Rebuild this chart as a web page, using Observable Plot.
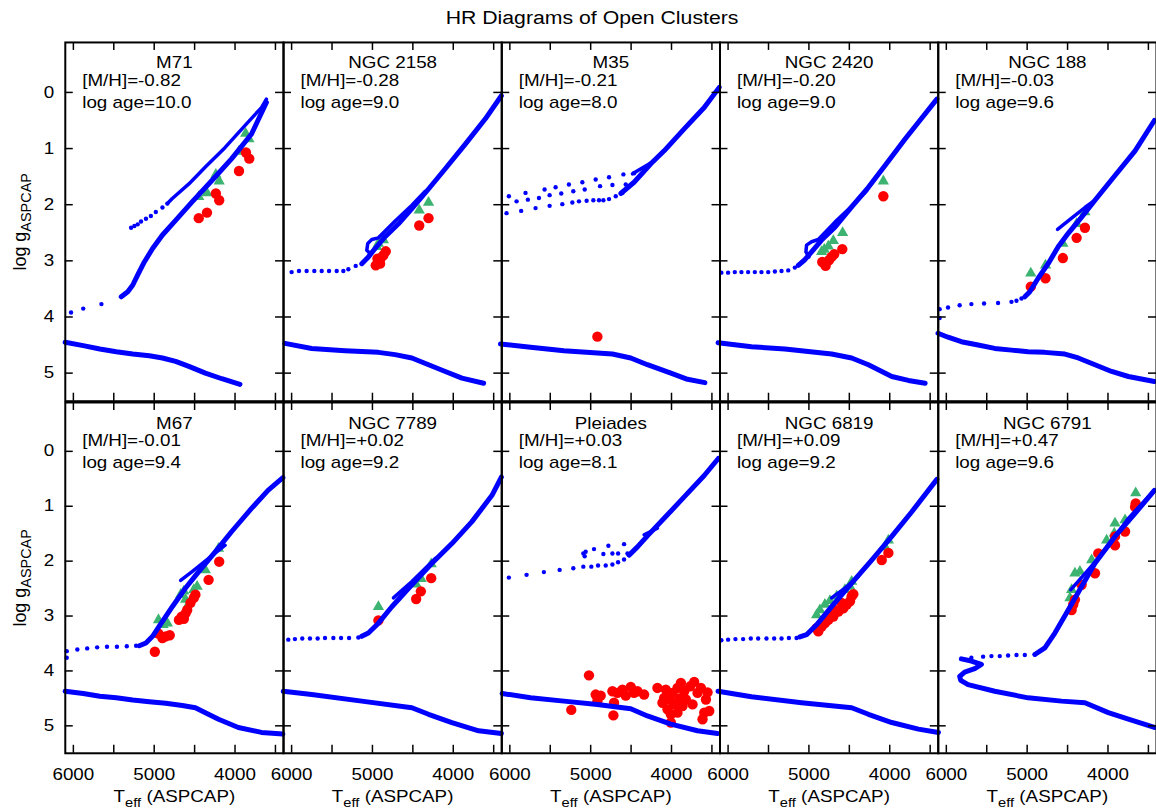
<!DOCTYPE html>
<html><head><meta charset="utf-8">
<script src="https://cdn.jsdelivr.net/npm/d3@7"></script>
<script src="https://cdn.jsdelivr.net/npm/@observablehq/plot@0.6"></script>
<style>
html,body{margin:0;padding:0;background:#fff;overflow:hidden;width:1156px;height:812px}
#title{position:absolute;left:0;top:7px;width:1184px;text-align:center;font:18px "Liberation Sans",Arial,sans-serif;line-height:22px;color:#000}
#title span{display:inline-block;transform:scaleX(1.18)}
#top{position:absolute;left:0;top:30px}
#bottom{position:absolute;left:0;top:402px}
svg{overflow:visible}
</style></head><body>
<div id="title"><span>HR Diagrams of Open Clusters</span></div>
<div id="top"></div><div id="bottom"></div>
<script>
const clusters = ["M71","NGC 2158","M35","NGC 2420","NGC 188","M67","NGC 7789","Pleiades","NGC 6819","NGC 6791"];
const metallicity = ["-0.82","-0.28","-0.21","-0.20","-0.03","-0.01","+0.02","+0.03","+0.09","+0.47"];
const logAge = ["10.0","9.0","8.0","9.0","9.6","9.4","9.2","8.1","9.2","9.6"];
const xTicks = [6000,5500,5000,4500,4000,3500];
const xTickLabels = [6000,5000,4000];
const yTicks = [0,1,2,3,4,5];

// isochrone main-sequence branch [Teff, log g]
const msLine = [
 [[6102,4.45],[5878,4.51],[5673,4.57],[5469,4.62],[5265,4.66],[5061,4.69],[4898,4.73],[4735,4.79],[4571,4.88],[4367,5.00],[4163,5.10],[3939,5.20]],
 [[6083,4.47],[5752,4.56],[5339,4.60],[4926,4.63],[4719,4.67],[4512,4.73],[4306,4.85],[4099,4.97],[3893,5.09],[3624,5.18]],
 [[6116,4.48],[5744,4.54],[5331,4.60],[4731,4.66],[4504,4.73],[4298,4.85],[4008,5.00],[3802,5.11],[3587,5.17]],
 [[6124,4.46],[5711,4.53],[5298,4.57],[4719,4.66],[4471,4.73],[4264,4.85],[3975,5.06],[3769,5.13],[3562,5.18]],
 [[6103,4.29],[5979,4.36],[5814,4.44],[5607,4.50],[5401,4.56],[5194,4.59],[4988,4.62],[4781,4.63],[4533,4.66],[4368,4.73],[4161,4.85],[3955,4.97],[3748,5.06],[3426,5.15]],
 [[6102,4.37],[5878,4.41],[5673,4.46],[5469,4.49],[5265,4.53],[5061,4.56],[4857,4.59],[4653,4.63],[4490,4.67],[4367,4.76],[4204,4.88],[3959,5.03],[3673,5.12],[3408,5.15]],
 [[6103,4.37],[5752,4.43],[5132,4.55],[4512,4.67],[4306,4.79],[4017,4.94],[3686,5.09],[3405,5.14]],
 [[6095,4.41],[5744,4.49],[5331,4.55],[4917,4.61],[4504,4.69],[4298,4.82],[4008,4.97],[3678,5.09],[3430,5.14]],
 [[6124,4.37],[5711,4.47],[5091,4.58],[4471,4.67],[4264,4.79],[3975,4.94],[3645,5.06],[3397,5.12]],
 [[3426,5.03],[3748,4.88],[3996,4.76],[4285,4.58],[4574,4.55],[4988,4.49],[5401,4.37],[5731,4.25],[5822,4.17],[5835,4.10],[5773,4.02],[5649,3.96],[5566,3.88],[5690,3.82],[5814,3.78]]
];
// isochrone giant branch
const rgbLine = [
 [[5408,3.64],[5327,3.55],[5265,3.43],[5204,3.25],[5122,3.02],[5020,2.78],[4898,2.54],[4735,2.28],[4531,1.95],[4286,1.57],[4041,1.18],[3796,0.74],[3612,0.18]],
 [[5132,3.05],[5050,2.93],[4967,2.78],[4843,2.57],[4678,2.34],[4512,2.07],[4306,1.72],[4099,1.36],[3851,0.92],[3603,0.47],[3405,0.06]],
 [[4628,1.80],[4463,1.60],[4256,1.27],[4091,1.04],[3843,0.65],[3595,0.27],[3409,-0.09]],
 [[5132,3.08],[5050,2.98],[4967,2.84],[4843,2.63],[4678,2.40],[4471,2.04],[4264,1.69],[4058,1.30],[3810,0.83],[3645,0.53],[3417,0.12]],
 [[5029,3.64],[4967,3.55],[4864,3.31],[4740,3.05],[4616,2.75],[4492,2.51],[4326,2.22],[4161,1.92],[3913,1.48],[3665,1.04],[3426,0.50]],
 [[5184,3.54],[5102,3.49],[5020,3.37],[4939,3.19],[4776,2.83],[4612,2.49],[4449,2.19],[4245,1.83],[4041,1.46],[3796,1.04],[3592,0.71],[3408,0.48]],
 [[5132,3.37],[5050,3.31],[4926,3.13],[4760,2.83],[4512,2.43],[4264,2.04],[4017,1.68],[3769,1.28],[3521,0.80],[3405,0.47]],
 [[4525,1.89],[4421,1.74],[4298,1.54],[4091,1.22],[3843,0.83],[3595,0.44],[3421,0.13]],
 [[5112,3.38],[5029,3.34],[4905,3.16],[4719,2.83],[4471,2.40],[4223,1.98],[3975,1.55],[3727,1.10],[3417,0.51]],
 [[4905,3.70],[4781,3.58],[4657,3.31],[4492,2.89],[4326,2.46],[4161,2.04],[3913,1.55],[3665,1.13],[3426,0.71]]
];
// isochrone clump / asymptotic branch
const agbLine = [
 [[4837,1.98],[4776,1.89],[4571,1.63],[4367,1.33],[4122,0.98],[3878,0.59],[3673,0.27],[3612,0.12]],
 [[5029,2.87],[5070,2.81],[5058,2.69],[5008,2.62],[4926,2.59],[4719,2.29],[4512,2.01],[4347,1.76]],
 [[4483,1.45],[4215,1.22]],
 [[5000,2.93],[5037,2.84],[5029,2.72],[4967,2.66],[4884,2.62],[4678,2.31],[4471,2.03],[4285,1.75]],
 [[4624,2.44],[4450,2.24],[4285,2.05],[4161,1.92]],
 [[4673,2.35],[4531,2.19],[4327,1.95],[4122,1.71]],
 [[4740,2.67],[4512,2.37],[4223,1.95]],
 [[4339,1.52],[4174,1.40]],
 [[4719,2.67],[4554,2.49],[4388,2.28]],
 [[4459,2.52],[4244,2.16],[4000,1.74],[3748,1.22],[3426,0.71]]
];
// sparse isochrone points
const isoDots = [
 [[6029,3.92],[5878,3.85],[5653,3.77],[5286,2.41],[5245,2.38],[5204,2.35],[5163,2.30],[5102,2.25],[5041,2.20],[4980,2.13],[4898,2.05],[4837,1.98]],
 [[6000,3.20],[5909,3.18],[5814,3.18],[5719,3.18],[5628,3.18],[5537,3.18],[5442,3.18],[5360,3.18],[5298,3.15],[5207,3.09]],
 [[6012,1.85],[5806,1.79],[5570,1.73],[5434,1.69],[5269,1.64],[5103,1.60],[4938,1.55],[4773,1.51],[4595,1.46],[4463,1.44],
  [5917,1.94],[5777,1.91],[5640,1.88],[5508,1.83],[5364,1.80],[5215,1.76],[5074,1.73],[4884,1.67],[4731,1.65],[4566,1.64],
  [6041,2.15],[5860,2.11],[5682,2.06],[5508,2.02],[5351,1.99],[5227,1.96],[5145,1.94],[5050,1.93],[4967,1.92],[4897,1.92],[4843,1.92],[4773,1.90],[4690,1.85],[4607,1.79]],
 [[6083,3.21],[6000,3.21],[5917,3.20],[5835,3.20],[5752,3.20],[5669,3.20],[5587,3.20],[5504,3.20],[5421,3.19],[5339,3.18],[5256,3.17],[5174,3.12]],
 [[6083,3.86],[5979,3.83],[5835,3.79],[5690,3.77],[5533,3.76],[5360,3.75],[5194,3.73],[5132,3.71],[5070,3.67],[6083,4.02]],
 [[6082,3.64],[5951,3.61],[5829,3.59],[5706,3.57],[5584,3.56],[5461,3.56],[5339,3.55],[5224,3.54],[6082,3.76]],
 [[6041,3.43],[5959,3.42],[5868,3.41],[5773,3.41],[5678,3.41],[5587,3.40],[5483,3.40],[5388,3.40],[5289,3.40],[5174,3.39]],
 [[6012,2.30],[5793,2.25],[5579,2.20],[5384,2.16],[5215,2.13],[5091,2.10],[4992,2.10],[4909,2.08],[4814,2.08],[4731,2.06],[4661,2.02],[4587,1.97],[4525,1.89],
  [5091,1.86],[5062,1.83],[5074,1.91],[4959,1.78],[4843,1.87],[4781,1.72],[4731,1.86],[4661,1.86],[4587,1.69],[4545,1.86]],
 [[6083,3.44],[6000,3.43],[5909,3.42],[5814,3.42],[5719,3.41],[5628,3.41],[5525,3.41],[5430,3.41],[5339,3.41],[5248,3.40],[5153,3.40]],
 [[5690,3.76],[5545,3.74],[5442,3.73],[5339,3.73],[5236,3.72],[5132,3.71],[5029,3.71],[4905,3.70]]
];
// observed stars (red circles)
const redStars = [
 [[4449,2.24],[4347,2.14],[4237,1.80],[4196,1.92],[3951,1.40],[3865,1.07],[3824,1.18]],
 [[4959,3.08],[4926,3.00],[4897,2.95],[4864,2.90],[4835,2.83],[4938,2.96],[4905,3.05],[4421,2.37],[4306,2.24]],
 [[4917,4.35]],
 [[4835,3.02],[4793,3.09],[4752,2.99],[4719,2.93],[4686,2.88],[4587,2.79],[4079,1.85]],
 [[4955,3.46],[4773,3.31],[4558,2.95],[4388,2.59],[4285,2.41]],
 [[4992,3.65],[4947,3.32],[4898,3.40],[4857,3.37],[4808,3.35],[4694,3.07],[4661,3.01],[4633,3.05],[4612,2.95],[4592,2.89],[4551,2.76],[4510,2.67],[4490,2.61],[4327,2.34],[4196,2.01]],
 [[4926,3.08],[4459,2.69],[4401,2.55],[4273,2.31]],
 [[5240,4.71],[5021,4.08],[4938,4.43],[4917,4.55],[4876,4.45],[4731,4.37],[4719,4.81],[4711,4.58],[4669,4.40],[4607,4.34],[4566,4.45],[4504,4.29],[4463,4.40],[4421,4.37],[4339,4.43],[4174,4.31],[4112,4.58],[4070,4.34],[4050,4.70],[4029,4.52],[4008,4.94],[3988,4.40],[3967,4.61],[3926,4.31],[3905,4.50],[3884,4.22],[3864,4.64],[3843,4.37],[3769,4.28],[3740,4.61],[3719,4.20],[3678,4.40],[3636,4.31],[3616,4.88],[3595,4.76],[3574,4.52],[3554,4.39],[3533,4.73],[4008,4.79],[4091,4.49],[3822,4.52],[3926,4.76]],
 [[4884,3.28],[4905,3.22],[4843,3.19],[4802,3.13],[4760,3.07],[4698,3.01],[4636,2.92],[4574,2.86],[4533,2.79],[4492,2.73],[4471,2.64],[4450,2.60],[4595,2.76],[4678,2.89],[4099,1.98],[4017,1.85],[4760,3.00]],
 [[4450,2.89],[4430,2.79],[4409,2.70],[4326,2.43],[4161,2.22],[4120,1.86],[3913,1.71],[3913,1.55],[3789,1.46],[3665,1.01],[3657,0.95]]
];
// observed stars (green triangles)
const greenStars = [
 [[4449,1.86],[4347,1.79],[4237,1.46],[4196,1.58],[3951,1.05],[3869,0.73],[3828,0.83]],
 [[4926,2.69],[4864,2.63],[4946,2.75],[4421,2.10],[4306,1.96]],
 [],
 [[4810,2.80],[4760,2.74],[4698,2.64],[4583,2.50],[4079,1.58],[4843,2.84]],
 [[4955,3.22],[4773,3.08],[4558,2.69],[4388,2.34],[4285,2.13]],
 [[4947,3.07],[4890,3.16],[4837,3.13],[4673,2.61],[4633,2.55],[4571,2.77],[4612,2.70],[4510,2.52],[4469,2.46],[4367,2.16],[4204,1.77]],
 [[4926,2.83],[4459,2.42],[4397,2.32],[4273,2.05]],
 [],
 [[4905,2.98],[4864,2.89],[4802,2.79],[4740,2.72],[4657,2.64],[4554,2.52],[4492,2.46],[4471,2.37],[4017,1.62],[4058,1.74]],
 [[4471,2.67],[4450,2.52],[4409,2.22],[4347,2.19],[4202,1.98],[4017,1.62],[3922,1.49],[3913,1.31],[3789,1.25],[3657,0.76]]
];

const W = 1160, ML = 65, SX = 1.18;
const BLUE = "#0000ff", RED = "#ff0000", GREEN = "#3cb371";

function fixText(svg) {
  d3.select(svg).selectAll("text").each(function() {
    const t = this.textContent;
    const s = d3.select(this);
    if (t === "log gASPCAP") {
      this.textContent = "";
      s.append("tspan").text("log g");
      s.append("tspan").attr("font-size", 14.5).attr("dy", 5).text("ASPCAP");
    } else if (t === "Teff (ASPCAP)") {
      this.textContent = "";
      s.style("white-space", "pre");
      s.append("tspan").text("T");
      s.append("tspan").attr("font-size", 12.5).attr("dy", 5).text("eff");
      s.append("tspan").attr("dy", -5).text(" (ASPCAP)");
    }
    const tr = this.getAttribute("transform") || "";
    if (tr.includes("rotate")) return;
    const x = +this.getAttribute("x") || 0, y = +this.getAttribute("y") || 0;
    this.setAttribute("transform", `${tr} translate(${x},${y}) scale(${SX},1) translate(${-x},${-y})`);
  });
}

function panelRow(r, height, marginTop, marginBottom) {
  const idx = d3.range(5 * r, 5 * r + 5);
  const pick = (arr, key) => idx.flatMap(i => arr[i].map(([T, g]) => ({T, g, col: i - 5 * r, key: key + i})));
  const labels = idx.map(i => ({name: clusters[i], mh: metallicity[i], age: logAge[i], col: i - 5 * r}));
  const panelH = height - marginTop - marginBottom;
  const panelW = (W - ML) / 5;
  const tick = {stroke: "black", strokeWidth: 1.5};
  const txt = {fx: "col", lineAnchor: "middle"};
  const marks = [
    Plot.dot(pick(greenStars, "gs"), {x: "T", y: "g", fx: "col", symbol: "triangle", r: 4.2, fill: GREEN}),
    Plot.dot(pick(redStars, "rs"), {x: "T", y: "g", fx: "col", r: 5.2, fill: RED}),
    Plot.line(pick(msLine, "ms").concat(pick(rgbLine, "rgb")), {x: "T", y: "g", z: "key", fx: "col", stroke: BLUE, strokeWidth: 5, strokeLinecap: "round", strokeLinejoin: "round"}),
    Plot.line(pick(agbLine, "agb"), {x: "T", y: "g", z: "key", fx: "col", stroke: BLUE, strokeWidth: 3.5, strokeLinecap: "round", strokeLinejoin: "round"}),
    Plot.dot(pick(isoDots, "d"), {x: "T", y: "g", fx: "col", r: 2.2, fill: BLUE}),
    Plot.frame({stroke: "black", strokeWidth: 2}),
    Plot.tickX(xTicks, {x: d => d, insetTop: panelH - 8, ...tick}),
    Plot.tickX(xTicks, {x: d => d, insetBottom: panelH - 8, ...tick}),
    Plot.tickY(yTicks, {y: d => d, insetRight: panelW - 8, ...tick}),
    Plot.tickY(yTicks, {y: d => d, insetLeft: panelW - 8, ...tick}),
    Plot.axisY({ticks: yTicks, tickSize: 0, tickPadding: 11, tickFormat: d => String(d), label: null}),
    Plot.text(labels, {...txt, text: "name", frameAnchor: "top", textAnchor: "middle", dy: 21}),
    Plot.text(labels, {...txt, text: d => "[M/H]=" + d.mh, frameAnchor: "top-left", dx: 17, dy: 39, textAnchor: "start"}),
    Plot.text(labels, {...txt, text: d => "log age=" + d.age, frameAnchor: "top-left", dx: 17, dy: 61, textAnchor: "start"}),
    Plot.text([{col: 0}], {...txt, text: () => "log gASPCAP", frameAnchor: "left", textAnchor: "middle", dx: -45, rotate: -90, fontSize: 18})
  ];
  if (r === 1) {
    marks.push(
      Plot.axisX({ticks: xTickLabels, tickSize: 0, tickPadding: 15, tickFormat: d => String(d), label: null}),
      Plot.text(labels, {...txt, text: () => "Teff (ASPCAP)", frameAnchor: "bottom", textAnchor: "middle", dy: 44})
    );
  }
  const svg = Plot.plot({
    width: W, height, marginTop, marginBottom, marginLeft: ML, marginRight: 0,
    x: {domain: [6100, 3400], ...(r === 0 ? {axis: null} : {})},
    y: {domain: [-0.89, 5.5], reverse: true},
    fx: {axis: null, padding: 0, domain: [0, 1, 2, 3, 4]},
    style: {fontFamily: "Liberation Sans, Arial, sans-serif", fontSize: "16px", background: "white", color: "black", overflow: "visible"},
    marks
  });
  fixText(svg);
  return svg;
}

document.getElementById("top").appendChild(panelRow(0, 372, 12, 0));
document.getElementById("bottom").appendChild(panelRow(1, 410, 0, 58));
</script></body></html>
